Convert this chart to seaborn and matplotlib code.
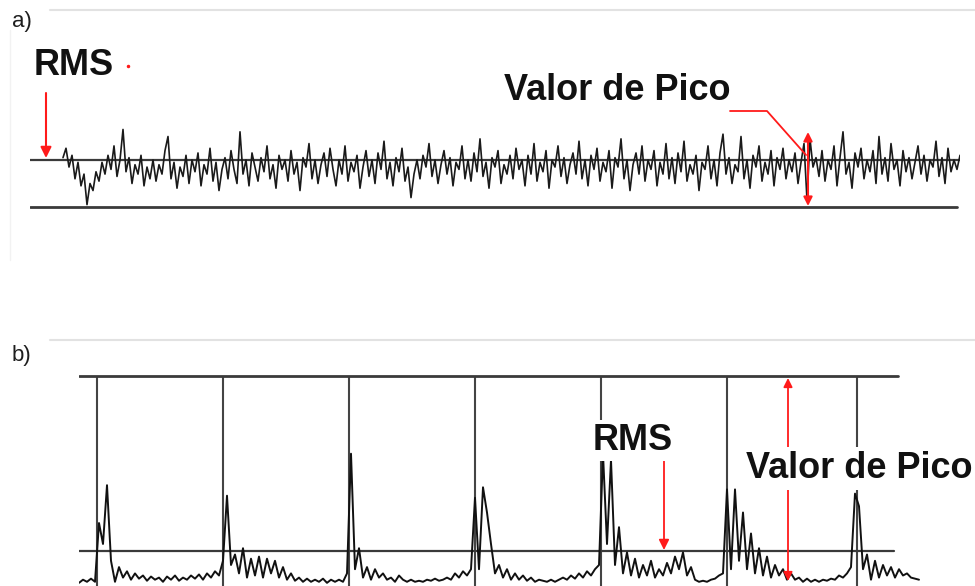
import matplotlib
matplotlib.use("Agg")
import matplotlib.pyplot as plt
import seaborn as sns
import numpy as np
import pandas as pd

# ---------------- data ----------------
# panel a: broadband noise signal (RMS line = 1, base line = 0)
signal_a = [
    1.05, 1.25, 0.85, 1.10, 0.60, 0.95, 0.45, 0.70, 0.05, 0.50, 0.35, 0.75, 0.55, 0.95, 0.70,
    1.10, 0.80, 1.30, 0.65, 1.00, 1.65, 0.75, 1.05, 0.50, 0.90, 0.70, 1.10, 0.45, 0.85, 0.60,
    1.00, 0.55, 0.90, 0.70, 1.20, 1.50, 0.60, 0.95, 0.40, 0.85, 0.65, 1.10, 0.50, 1.00, 0.75,
    1.15, 0.45, 0.90, 0.70, 1.25, 0.55, 0.95, 0.35, 0.80, 1.05, 0.60, 1.20, 0.80, 0.50, 1.60,
    0.70, 1.00, 0.45, 1.15, 0.85, 0.55, 1.05, 0.75, 1.30, 0.60, 0.90, 0.40, 1.10, 0.80, 1.00,
    0.55, 1.20, 0.70, 0.95, 0.35, 1.05, 0.85, 1.35, 0.60, 1.00, 0.50, 0.90, 1.15, 0.65, 1.25,
    0.80, 0.45, 1.00, 0.70, 1.30, 0.55, 0.95, 0.75, 1.10, 0.40, 0.85, 1.20, 0.65, 1.00, 0.50,
    1.15, 0.80, 1.40, 0.60, 0.95, 0.45, 1.05, 0.75, 1.25, 0.55, 0.85, 0.20, 0.70, 1.00, 0.60,
    1.10, 0.85, 1.35, 0.65, 1.00, 0.50, 0.90, 1.20, 0.70, 1.05, 0.45, 0.95, 0.80, 1.30, 0.60,
    1.00, 0.55, 1.15, 0.75, 1.45, 0.65, 0.95, 0.40, 1.05, 0.85, 1.20, 0.50, 0.90, 0.70, 1.10,
    0.60, 1.25, 0.80, 1.00, 0.45, 1.10, 0.70, 1.35, 0.55, 0.95, 0.75, 1.20, 0.40, 1.00, 0.85,
    1.30, 0.65, 1.05, 0.50, 0.90, 1.15, 0.70, 1.40, 0.60, 1.00, 0.45, 1.10, 0.80, 1.25, 0.55,
    0.95, 0.75, 1.20, 0.40, 1.05, 0.85, 1.45, 0.60, 1.00, 0.35, 0.90, 1.15, 0.70, 1.30, 0.55,
    1.00, 0.80, 1.20, 0.45, 0.95, 0.70, 1.35, 0.60, 1.05, 0.50, 1.15, 0.75, 1.40, 0.55, 0.90,
    0.70, 1.10, 0.35, 0.95, 0.80, 1.30, 0.60, 1.00, 0.45, 1.15, 1.55, 0.70, 1.05, 0.50, 0.90,
    0.75, 1.50, 0.60, 1.00, 0.40, 1.10, 0.85, 1.30, 0.55, 0.95, 0.70, 1.20, 0.45, 1.05, 0.80,
    1.25, 0.60, 1.00, 0.75, 1.15, 0.50, 0.95, 1.35, 0.15, 1.45, 0.85, 1.05, 0.65, 1.20, 0.55,
    1.00, 0.80, 1.30, 0.45, 1.05, 1.60, 0.70, 0.95, 0.40, 1.15, 0.85, 1.25, 0.60, 1.00, 0.75,
    1.20, 0.50, 1.50, 0.70, 1.05, 0.55, 1.35, 0.80, 1.00, 0.45, 1.20, 0.75, 1.05, 0.60, 0.95,
    1.30, 0.70, 1.10, 0.55, 1.00, 0.85, 1.40, 0.65, 1.05, 0.50, 1.25, 0.75, 1.00, 0.80, 1.10,
]
rms_a = 1.0
base_a = 0.0

# panel b: impulsive signal (peak level = 10, RMS level ~1.67)
signal_b = [
    0.15, 0.3, 0.2, 0.35,
    0.2, 3.0, 2.0, 4.8, 1.2, 0.2,
    0.9, 0.4, 0.7, 0.3, 0.6, 0.35, 0.5, 0.25, 0.45, 0.3, 0.4, 0.2, 0.45, 0.3, 0.5, 0.25,
    0.4, 0.3, 0.5, 0.35, 0.55, 0.3, 0.6, 0.4, 0.7, 0.5,
    1.2, 4.3, 1.0, 1.5, 0.6, 1.8,
    0.4, 1.3, 0.5, 1.4, 0.4, 1.3, 0.6, 1.2, 0.4, 0.9, 0.3, 0.6, 0.25, 0.4, 0.2, 0.35,
    0.2, 0.3, 0.2, 0.35, 0.15, 0.3, 0.2, 0.3, 0.2,
    0.6, 6.3, 0.8, 1.8, 0.4, 0.9,
    0.3, 0.8, 0.4, 0.6, 0.3, 0.4, 0.2, 0.5, 0.3, 0.2, 0.3, 0.2, 0.25, 0.2, 0.3, 0.25,
    0.35, 0.25, 0.3, 0.4, 0.3, 0.6, 0.4, 0.7, 0.5, 0.8,
    4.2, 0.8, 4.7, 3.5, 2.0, 0.6,
    1.0, 0.4, 0.8, 0.3, 0.6, 0.3, 0.5, 0.25, 0.4, 0.2, 0.3, 0.25, 0.2, 0.3, 0.2, 0.3,
    0.4, 0.3, 0.5, 0.35, 0.6, 0.4, 0.7, 0.5, 0.8,
    1.0, 6.3, 2.0, 6.0, 1.0, 2.8, 0.6,
    1.6, 0.5, 1.3, 0.4, 1.0, 0.5, 1.2, 0.4, 0.8, 0.5, 1.1, 0.6, 1.4, 0.8, 1.6, 0.5,
    0.9, 0.3, 0.2, 0.25, 0.2, 0.3, 0.35, 0.5, 0.6,
    4.6, 0.8, 4.6, 1.2, 3.5, 0.8, 2.5,
    0.6, 1.8, 0.5, 1.4, 0.4, 1.0, 0.5, 0.8, 0.3, 0.6, 0.3, 0.4, 0.2, 0.35, 0.2, 0.3,
    0.2, 0.3, 0.25, 0.35, 0.3, 0.5, 0.4, 0.6, 0.9,
    4.4, 3.8, 0.8, 1.5, 0.3, 1.2,
    0.4, 1.0, 0.5, 0.9, 0.4, 0.8, 0.5, 0.6, 0.4, 0.35, 0.3,
]
pulse_positions_b = [4.5, 36, 67.5, 99, 130.5, 162, 194.5]
peak_b = 10.0
rms_b = 1.67

panel_labels = ["a)", "b)"]
label_rms = "RMS"
label_peak = "Valor de Pico"

# ---------------- style ----------------
sns.set_style("white")
plt.rcParams["font.family"] = ["Liberation Sans", "DejaVu Sans"]

W, H = 975, 586
fig = plt.figure(figsize=(W / 100, H / 100), dpi=100)
fig.patch.set_facecolor("white")

line_col = "#3a3a3a"
red = "#ff1a1a"

# ---- panel a ----
axA = fig.add_axes([30 / W, 1 - 220 / H, 930 / W, 130 / H])
dfa = pd.DataFrame({"x": np.arange(len(signal_a)), "y": signal_a})
sns.lineplot(data=dfa, x="x", y="y", ax=axA, color="#1a1a1a", lw=1.2)
axA.axhline(rms_a, color=line_col, lw=1.6, zorder=1)
axA.axhline(base_a, color=line_col, lw=2.0, zorder=1, xmax=927 / 930)
axA.set_xlim(-11, -11 + 930 / 3)
axA.set_ylim(-(220 - 207) / 47, (207 - 90) / 47)
axA.axis("off")

# ---- panel b ----
axB = fig.add_axes([79 / W, 0, 841 / W, 216 / H])
dfb = pd.DataFrame({"x": np.arange(len(signal_b)), "y": signal_b})
axB.vlines(pulse_positions_b, 0, peak_b, color="#444444", lw=1.5, zorder=1)
sns.lineplot(data=dfb, x="x", y="y", ax=axB, color="#111111", lw=1.4, zorder=2)
axB.axhline(peak_b, color=line_col, lw=2.0, xmax=(898 - 79) / 841, zorder=1)
axB.axhline(rms_b, color=line_col, lw=1.6, xmax=(894 - 79) / 841, zorder=1)
axB.set_xlim(0, 841 / 4)
axB.set_ylim(0, 216 / 21)
axB.axis("off")

# ---- overlay for annotations (pixel coords) ----
ov = fig.add_axes([0, 0, 1, 1])
ov.set_xlim(0, W)
ov.set_ylim(H, 0)
ov.axis("off")

# separators
ov.plot([50, 975], [10, 10], color="#e2e2e2", lw=1.5)
ov.plot([50, 975], [340, 340], color="#e2e2e2", lw=1.5)
ov.plot([10, 10], [30, 260], color="#f2f2f2", lw=1.0)

# panel labels
ov.text(12, 22, panel_labels[0], fontsize=16, color="#1e1e1e", va="center", ha="left")
ov.text(12, 355, panel_labels[1], fontsize=16, color="#1e1e1e", va="center", ha="left")

tkw = dict(fontsize=26, fontweight="bold", color="#111111", va="baseline")

# panel a annotations
ov.text(34, 75, label_rms, ha="left", **tkw)
ov.plot([128], [66], marker="o", ms=1.5, color=red)
ov.annotate("", xy=(46, 158), xytext=(46, 93),
            arrowprops=dict(arrowstyle="-|>", color=red, lw=1.5,
                            mutation_scale=16, shrinkA=0, shrinkB=0))
ov.text(504, 100, label_peak, ha="left", **tkw)
ov.plot([730, 767, 806], [111, 111, 155], color=red, lw=1.3)
ov.annotate("", xy=(808, 206), xytext=(808, 132),
            arrowprops=dict(arrowstyle="<|-|>", color=red, lw=1.5,
                            mutation_scale=13, shrinkA=0, shrinkB=0))

# panel b annotations
ov.annotate("", xy=(664, 550), xytext=(664, 455),
            arrowprops=dict(arrowstyle="-|>", color=red, lw=1.3,
                            mutation_scale=15, shrinkA=0, shrinkB=0))
ov.annotate("", xy=(788, 581), xytext=(788, 378),
            arrowprops=dict(arrowstyle="<|-|>", color=red, lw=1.3,
                            mutation_scale=13, shrinkA=0, shrinkB=0))
ov.text(633, 450, label_rms, ha="center",
        bbox=dict(facecolor="white", edgecolor="none", pad=2), **tkw)
ov.text(972, 478, label_peak, ha="right",
        bbox=dict(facecolor="white", edgecolor="none", pad=3), **tkw)

fig.savefig("out.png", dpi=100)
